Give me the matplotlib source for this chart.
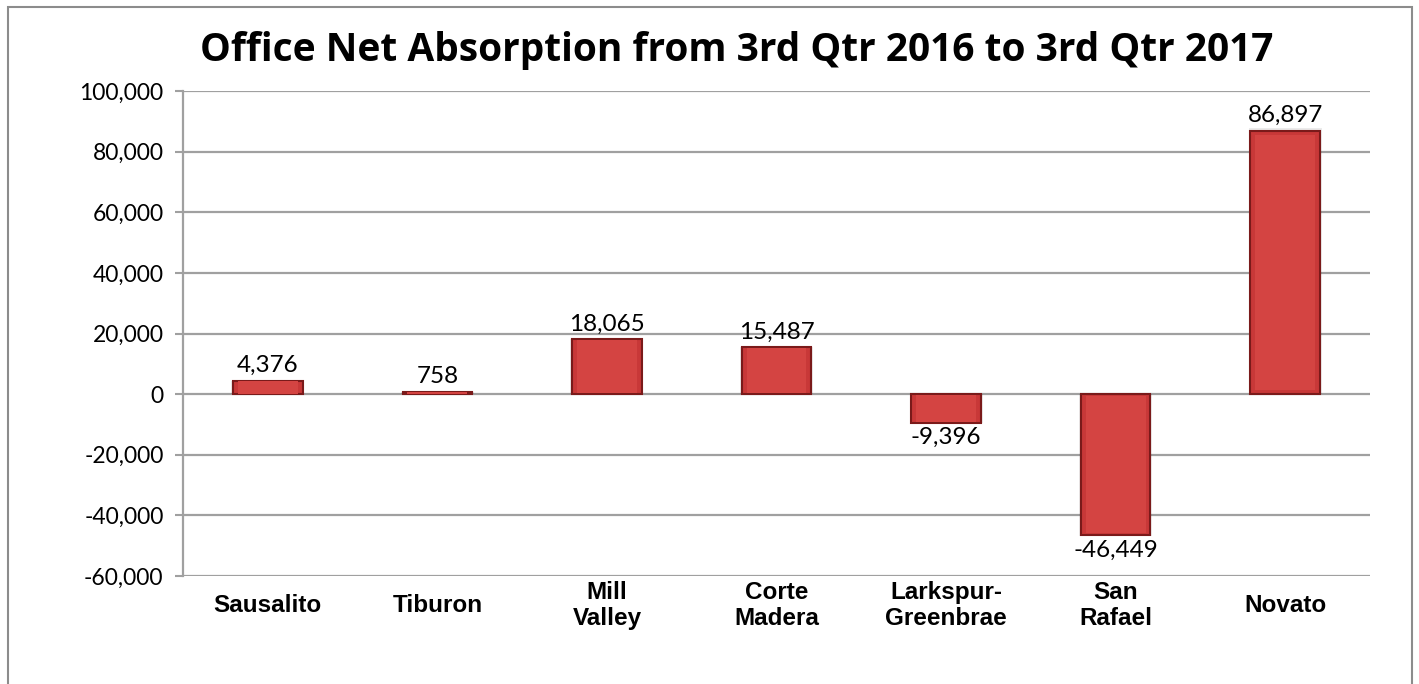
import matplotlib.pyplot as plt
from matplotlib.patches import Rectangle

# data
cities = ["Sausalito", "Tiburon", "Mill\nValley", "Corte\nMadera",
          "Larkspur-\nGreenbrae", "San\nRafael", "Novato"]
absorption = [4376, 758, 18065, 15487, -9396, -46449, 86897]
yticks = [-60000, -40000, -20000, 0, 20000, 40000, 60000, 80000, 100000]

fig = plt.figure(figsize=(14.19, 6.84), dpi=100)
ax = fig.add_axes([183 / 1419, 1 - 576 / 684, (1370 - 183) / 1419, (576 - 91) / 684])

# outer chart frame
fig.patches.append(Rectangle((8 / 1419, -0.1), (1412 - 8) / 1419, 1.1 - 7 / 684,
                             transform=fig.transFigure, fill=False,
                             edgecolor="#8c8c8c", linewidth=1.5))

x = range(len(cities))
# soft shadow under bars
ax.bar(list(x), [v * 1.01 for v in absorption], width=0.43, color="#000000",
       alpha=0.08, zorder=2)
bars = ax.bar(x, absorption, width=0.41, color="#c83838", edgecolor="#7a1a1a",
              linewidth=1.5, zorder=3)

# lighter inner face for a bevel look
for b in bars:
    h = b.get_height()
    ax.bar(b.get_x() + b.get_width() / 2, h * 0.97, width=0.41 * 0.86,
           bottom=h * 0.015, color="#d44442", linewidth=0, zorder=4)

for i, v in enumerate(absorption):
    off = 1500 if v >= 0 else -1500
    ax.text(i, v + off, f"{v:,}", ha="center", va="bottom" if v >= 0 else "top",
            fontsize=17.5, family="Lato", color="black")

ax.set_xlim(-0.5, len(cities) - 0.5)
ax.set_ylim(-60000, 100000)
ax.set_yticks(yticks)
ax.set_yticklabels([f"{t:,}" for t in yticks], fontsize=16.5, family="Lato")
ax.yaxis.grid(True, color="#a0a0a0", linewidth=1.6, zorder=0)
ax.set_axisbelow(True)

ax.set_xticks(list(x))
ax.set_xticklabels(cities, fontsize=17.5, fontweight="bold", family="Liberation Sans",
                   va="center", linespacing=1.15)
ax.tick_params(axis="x", length=0, pad=21)
ax.tick_params(axis="y", length=6, width=1.5, color="#a0a0a0", pad=8)

for s in ["top", "right", "bottom"]:
    ax.spines[s].set_visible(False)
ax.spines["left"].set_color("#a0a0a0")
ax.spines["left"].set_linewidth(1.6)

fig.text(0.5195, 1 - 50 / 684, "Office Net Absorption from 3rd Qtr 2016 to 3rd Qtr 2017",
         ha="center", va="center", fontsize=28, fontweight="bold", family="Open Sans")

fig.savefig("out.png", dpi=100)
